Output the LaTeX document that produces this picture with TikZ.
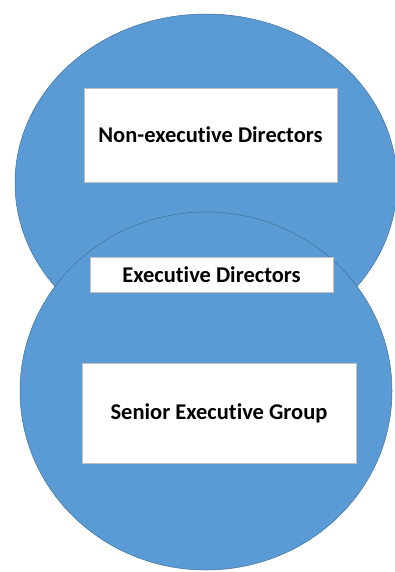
\documentclass[tikz,border=0pt]{standalone}
\usepackage{fontspec}
\setmainfont{Carlito}[Ligatures=CommonOff]
\begin{document}
\begin{tikzpicture}[x=1pt,y=-1pt,
  circlefill/.style={fill={rgb,255:red,91;green,155;blue,213}, draw={rgb,255:red,65;green,113;blue,156}, line width=0.5pt},
  labelbox/.style={fill=white, draw={rgb,255:red,191;green,191;blue,191}, line width=0.8pt, inner sep=0pt, font=\bfseries\fontsize{22.5}{26}\selectfont}]
  \useasboundingbox (0,0) rectangle (394,572);
  % the two overlapping bodies
  \path[circlefill] (206,183) ellipse [x radius=191, y radius=169];
  \path[circlefill] (206,391) ellipse [x radius=186, y radius=179];
  % labelled boxes
  \node[labelbox, minimum width=253pt, minimum height=94pt] (ned) at (210.5,135) {Non-executive Directors};
  \node[labelbox, minimum width=243pt, minimum height=35pt] (ed) at (211.5,274.5) {Executive Directors};
  \node[labelbox, minimum width=274pt, minimum height=100pt] (seg) at (219,413) {Senior Executive Group};
\end{tikzpicture}
\end{document}
